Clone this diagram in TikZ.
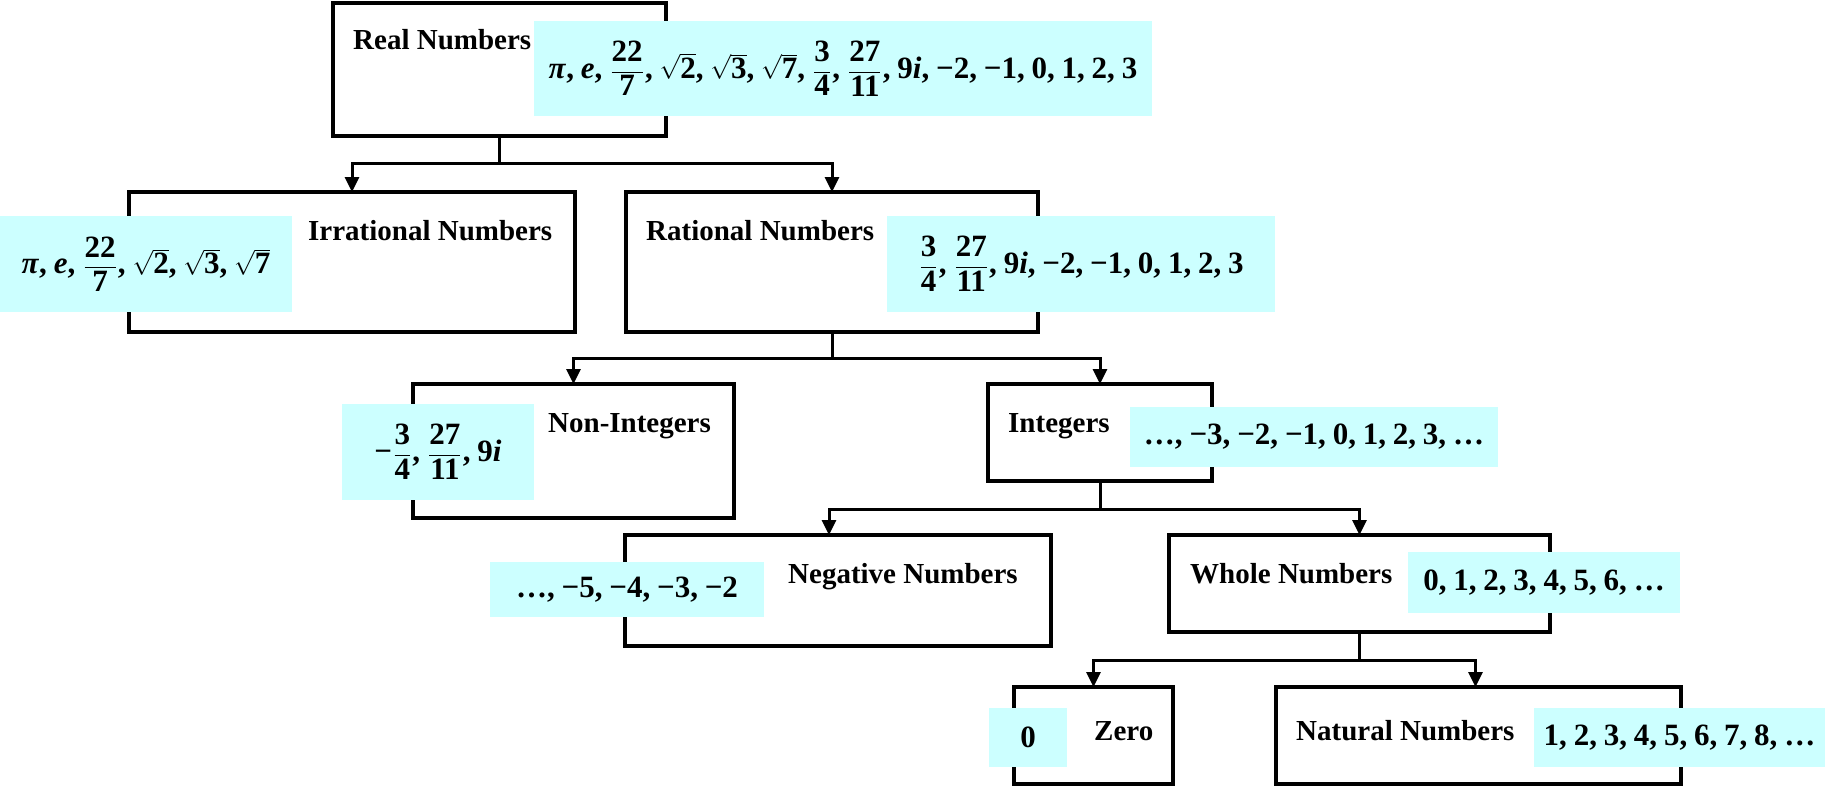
\documentclass[tikz,border=0pt]{standalone}
\usepackage{amsmath}
\usepackage[no-math]{fontspec}
\setmainfont{Liberation Serif}
\usetikzlibrary{arrows.meta}
\definecolor{cyanfill}{HTML}{CCFFFF}
\newcommand\lblfont{\bfseries\fontsize{29}{34}\selectfont}
\newcommand\mathfnt{\bfseries\fontsize{31}{35}\selectfont}
\newcommand\sep{,\hspace{0.22em}}
\newcommand\fr[2]{\hspace{0.04em}$\dfrac{\text{#1}}{\text{#2}}$\hspace{0.04em}}
\newcommand\sq[1]{$\sqrt{\text{#1}}$}
\tikzset{
  box/.style={draw, line width=3.5pt, inner sep=0pt, outer sep=0pt, rectangle},
  bluebox/.style={fill=cyanfill, inner sep=0pt, outer sep=0pt, rectangle, font=\mathfnt},
  lbl/.style={anchor=base west, inner sep=0pt, font=\lblfont},
  conn/.style={line width=3pt},
  arr/.style={line width=3pt, -{Triangle[width=14pt,length=15pt]}}
}
\begin{document}
\begin{tikzpicture}[x=1pt,y=-1pt]
\useasboundingbox (0,0) rectangle (1825,789);
% boxes
\node[box, minimum width=333, minimum height=133] (real) at (499.5,69.5) {};
\node[box, minimum width=446, minimum height=140] (irr) at (352,262) {};
\node[box, minimum width=412, minimum height=140] (rat) at (832,262) {};
\node[box, minimum width=321, minimum height=134] (nonint) at (573.5,451) {};
\node[box, minimum width=224, minimum height=97] (int) at (1100,432.5) {};
\node[box, minimum width=426, minimum height=111] (neg) at (838,590.5) {};
\node[box, minimum width=381, minimum height=97] (whole) at (1359.5,583.5) {};
\node[box, minimum width=159, minimum height=97] (zero) at (1093.5,735.5) {};
\node[box, minimum width=405, minimum height=97] (nat) at (1478.5,735.5) {};
% connectors
\draw[conn] (real.south) -- ++(0,27) coordinate (j1);
\draw[arr] (j1) -| (irr.north);
\draw[arr] (j1) -| (rat.north);
\draw[conn] (rat.south) -- ++(0,26) coordinate (j2);
\draw[arr] (j2) -| (nonint.north);
\draw[arr] (j2) -| (int.north);
\draw[conn] (int.south) -- ++(0,28) coordinate (j3);
\draw[arr] (j3) -| ([xshift=-9pt]neg.north);
\draw[arr] (j3) -| (whole.north);
\draw[conn] (whole.south) -- ++(0,28) coordinate (j4);
\draw[arr] (j4) -| (zero.north);
\draw[arr] (j4) -| ([xshift=-3pt]nat.north);
% blue sets
\node[bluebox, minimum width=618, minimum height=95] (sreal) at (843,68.5)
  {\textit{π}\sep\textit{e}\sep\fr{22}{7}\sep\sq{2}\sep\sq{3}\sep\sq{7}\sep\fr{3}{4}\sep\fr{27}{11}\sep 9\textit{i}\sep −2\sep −1\sep 0\sep 1\sep 2\sep 3};
\node[bluebox, minimum width=292, minimum height=96] (sirr) at (146,264)
  {\textit{π}\sep\textit{e}\sep\fr{22}{7}\sep\sq{2}\sep\sq{3}\sep\sq{7}};
\node[bluebox, minimum width=388, minimum height=96] (srat) at (1081,264)
  {\fr{3}{4}\sep\fr{27}{11}\sep 9\textit{i}\sep −2\sep −1\sep 0\sep 1\sep 2\sep 3};
\node[bluebox, minimum width=192, minimum height=96] (snonint) at (438,452)
  {−\fr{3}{4}\sep\fr{27}{11}\sep 9\textit{i}};
\node[bluebox, minimum width=368, minimum height=60] (sint) at (1314,437)
  {…\sep −3\sep −2\sep −1\sep 0\sep 1\sep 2\sep 3\sep …};
\node[bluebox, minimum width=274, minimum height=55] (sneg) at (627,589.5)
  {…\sep −5\sep −4\sep −3\sep −2};
\node[bluebox, minimum width=272, minimum height=61] (swhole) at (1544,582.5)
  {0\sep 1\sep 2\sep 3\sep 4\sep 5\sep 6\sep …};
\node[bluebox, minimum width=78, minimum height=59] (szero) at (1028,737.5)
  {0};
\node[bluebox, minimum width=291, minimum height=59] (snat) at (1679.5,737.5)
  {1\sep 2\sep 3\sep 4\sep 5\sep 6\sep 7\sep 8\sep …};
% labels
\node[lbl] (lreal) at (353,50) {Real Numbers};
\node[lbl] (lirr) at (308,240) {Irrational Numbers};
\node[lbl] (lrat) at (646,240) {Rational Numbers};
\node[lbl] (lnonint) at (548,432) {Non-Integers};
\node[lbl] (lint) at (1008,432) {Integers};
\node[lbl] (lneg) at (788,583) {Negative Numbers};
\node[lbl] (lwhole) at (1190,583) {Whole Numbers};
\node[lbl] (lzero) at (1094,740) {Zero};
\node[lbl] (lnat) at (1296,740) {Natural Numbers};
\end{tikzpicture}
\end{document}
